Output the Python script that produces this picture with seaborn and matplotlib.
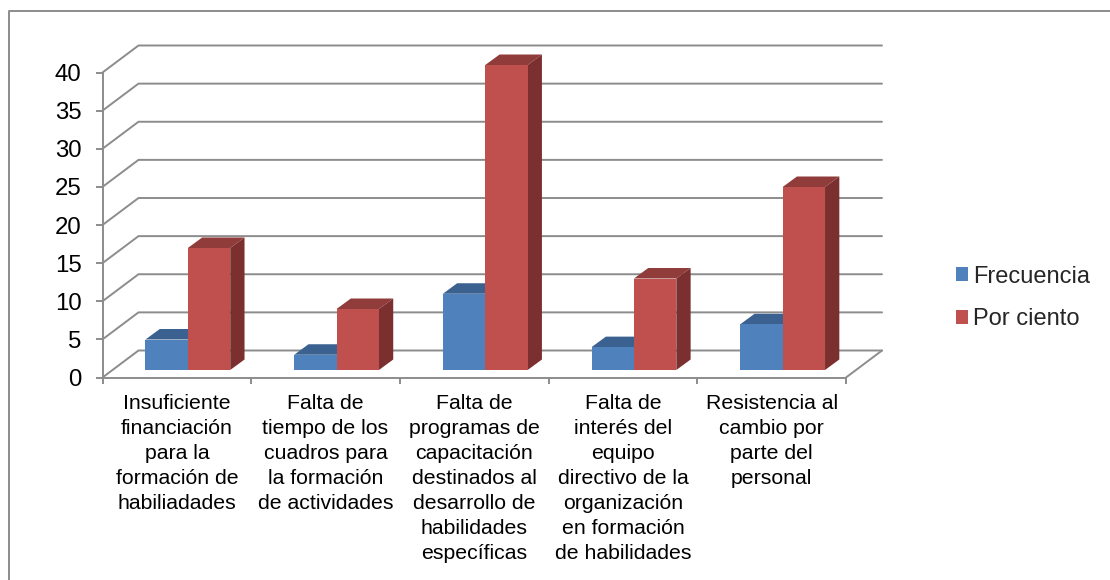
import pandas as pd
import seaborn as sns
import matplotlib.pyplot as plt
from matplotlib.lines import Line2D
from matplotlib.patches import Polygon

# values
categorias = ["Insuficiente\nfinanciación\npara la\nformación de\nhabiliadades",
              "Falta de\ntiempo de los\ncuadros para\nla formación\nde actividades",
              "Falta de\nprogramas de\ncapacitación\ndestinados al\ndesarrollo de\nhabilidades\nespecíficas",
              "Falta de\ninterés del\nequipo\ndirectivo de la\norganización\nen formación\nde habilidades",
              "Resistencia al\ncambio por\nparte del\npersonal"]
frecuencia = [4, 2, 10, 3, 6]
por_ciento = [16, 8, 40, 12, 24]
yticks = [0, 5, 10, 15, 20, 25, 30, 35, 40]

df = pd.DataFrame({
    "categoria": categorias * 2,
    "valor": frecuencia + por_ciento,
    "serie": ["Frecuencia"] * 5 + ["Por ciento"] * 5,
})

sns.set_theme(style="white")
plt.rcParams['font.family'] = ['Liberation Sans', 'DejaVu Sans']

W, H = 1110, 580
GRAY = "#8c8c8c"
LW = 1.4
fig = plt.figure(figsize=(W / 100, H / 100), dpi=100)
ax = fig.add_axes([102.5 / W, 1 - 377.5 / H, 743.5 / W, 305 / H])

sns.barplot(data=df, x="categoria", y="valor", hue="serie", ax=ax,
            palette=["#4f81bd", "#c0504d"], saturation=1, width=0.57, gap=0,
            linewidth=0, zorder=5)
ax.set_xlim(-0.5, 4.5)
ax.set_ylim(0, 40)
ax.set_xlabel("")
ax.set_ylabel("")

# pixel sizes turned into data units
px_x = 1 / (743.5 / 5)
px_y = 40 / 305
wall_dx, wall_dy = 36 * px_x, 27 * px_y      # depth of the back wall
bar_dx, bar_dy = 11 * px_x, 7.5 * px_y       # bars stand a bit inside the floor
side_dx, side_dy = 14.3 * px_x, 10.5 * px_y  # depth of each bar

# back wall and floor
for v in yticks:
    ax.plot([-0.5, -0.5 + wall_dx, 4.5 + wall_dx], [v, v + wall_dy, v + wall_dy],
            color=GRAY, lw=LW, clip_on=False, zorder=1)
ax.plot([4.5, 4.5 + wall_dx], [0, wall_dy], color=GRAY, lw=LW, clip_on=False, zorder=1)

# 3d faces of the bars
shades = [("#3b6190", "#3b6190"), ("#8f3c3a", "#7b2f2e")]
for n, cont in enumerate(ax.containers):
    top_c, side_c = shades[n]
    for bar in cont:
        bar.set_x(bar.get_x() + bar_dx)
        bar.set_y(bar_dy)
        bar.set_clip_on(False)
        bar.set_zorder(5 + n)
        x0, x1 = bar.get_x(), bar.get_x() + bar.get_width()
        y0, y1 = bar_dy, bar_dy + bar.get_height()
        ax.add_patch(Polygon([(x0, y1), (x1, y1), (x1 + side_dx, y1 + side_dy), (x0 + side_dx, y1 + side_dy)],
                             facecolor=top_c, edgecolor="none", clip_on=False, zorder=4 + n))
        ax.add_patch(Polygon([(x1, y0), (x1 + side_dx, y0 + side_dy), (x1 + side_dx, y1 + side_dy), (x1, y1)],
                             facecolor=side_c, edgecolor="none", clip_on=False, zorder=4 + n))

# axes
sns.despine(ax=ax, top=True, right=True)
for s in ["left", "bottom"]:
    ax.spines[s].set_color(GRAY)
    ax.spines[s].set_linewidth(LW)
    ax.spines[s].set_zorder(2)
ax.set_yticks(yticks)
ax.tick_params(axis="y", labelsize=17.3, labelcolor="black", color=GRAY, width=LW,
               length=5, pad=10, left=True)
ax.set_xticks(range(5), categorias, linespacing=1.39)
ax.set_xticks([i - 0.5 for i in range(6)], minor=True)
ax.tick_params(axis="x", which="major", labelsize=15.3, labelcolor="black", length=0, pad=12.2)
ax.tick_params(axis="x", which="minor", color=GRAY, width=LW, length=4, bottom=True)

handles, labels = ax.get_legend_handles_labels()
ax.legend(handles, labels, loc="center left", bbox_to_anchor=(956 / W, 1 - 298 / H),
          bbox_transform=fig.transFigure, frameon=False, fontsize=17,
          handlelength=0.52, handleheight=0.52, handletextpad=0.2, labelspacing=0.87,
          borderpad=0, borderaxespad=0)

# chart border, only left and top show in the image
fig.add_artist(Line2D([8.5 / W, 8.5 / W, 1], [0, 1 - 10.5 / H, 1 - 10.5 / H],
                      color=GRAY, lw=LW))

fig.savefig("out.png", dpi=100)
